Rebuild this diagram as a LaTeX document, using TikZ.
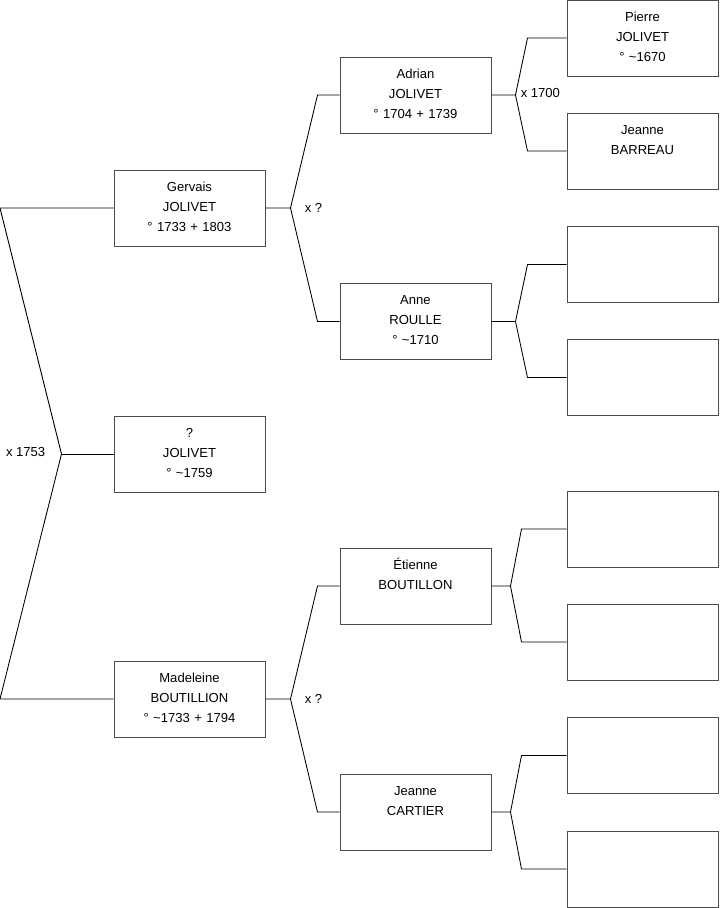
\documentclass[tikz,border=0pt]{standalone}
\usepackage{fontspec}
\setmainfont{Liberation Sans}
\usetikzlibrary{positioning,calc}

\begin{document}
\begin{tikzpicture}[
    x=0.75pt,
    y=-0.75pt,
    font=\fontsize{9.8}{15}\selectfont,
    person/.style={
        draw=black!70,
        line width=0.75pt,
        text width=113.25pt,
        align=center,
        inner sep=0pt,
        text height=16pt,
        text depth=41pt
    },
    link/.style={line width=0.65pt},
    union/.style={inner sep=0pt}
]
\useasboundingbox (0,0) rectangle (719,908);
\coordinate (edge) at (0,0);

% generation 1
\node[person] (gerv) at (189.5,208) {Gervais\\JOLIVET\\° 1733 + 1803};
\node[person] (unkn) at (189.5,454) {?\\JOLIVET\\° \textasciitilde1759};
\node[person] (made) at (189.5,699) {Madeleine\\BOUTILLION\\° \textasciitilde1733 + 1794};

% generation 2
\node[person] (adri) at (415.5,95) {Adrian\\JOLIVET\\° 1704 + 1739};
\node[person] (anne) at (415.5,321.5) {Anne\\ROULLE\\° \textasciitilde1710};
\node[person] (etie) at (415.5,586) {Étienne\\BOUTILLON};
\node[person] (jcar) at (415.5,812) {Jeanne\\CARTIER};

% generation 3
\node[person] (pjol) at (642.5,38) {Pierre\\JOLIVET\\° \textasciitilde1670};
\node[person] (jbar) at (642.5,151) {Jeanne\\BARREAU};
\node[person] (r3) at (642.5,264.5) {};
\node[person] (r4) at (642.5,377.5) {};
\node[person] (r5) at (642.5,529) {};
\node[person] (r6) at (642.5,642) {};
\node[person] (r7) at (642.5,755.5) {};
\node[person] (r8) at (642.5,869) {};

% couple of the children
\coordinate (lfork) at ($(unkn.west)+(-52,0)$);
\draw[link] (gerv.west) -- (gerv.west -| edge) -- (lfork) -- (made.west -| edge) -- (made.west);
\draw[link] (lfork) -- (unkn.west);
\node[union, anchor=east] (lxl) at ($(lfork)+(-16,-2.5)$) {x 1753};

% parents of Gervais
\draw[link] (gerv.east) -- ++(25,0) coordinate (gx)
    -- ($(adri.west)+(-22,0)$) -- (adri.west);
\draw[link] (gx) -- ($(anne.west)+(-22,0)$) -- (anne.west);
\node[union, anchor=west] (gxl) at ($(gx)+(14,0)$) {x ?};

% parents of Madeleine
\draw[link] (made.east) -- ++(25,0) coordinate (mx)
    -- ($(etie.west)+(-22,0)$) -- (etie.west);
\draw[link] (mx) -- ($(jcar.west)+(-22,0)$) -- (jcar.west);
\node[union, anchor=west] (mxl) at ($(mx)+(14,0)$) {x ?};

% parents of Adrian
\draw[link] (adri.east) -- ++(24,0) coordinate (ax)
    -- ($(pjol.west)+(-39,0)$) -- (pjol.west);
\draw[link] (ax) -- ($(jbar.west)+(-39,0)$) -- (jbar.west);
\node[union, anchor=west] (axl) at ($(ax)+(5,-2.5)$) {x 1700};

% parents of Anne
\draw[link] (anne.east) -- ++(24,0) coordinate (nx)
    -- ($(r3.west)+(-39,0)$) -- (r3.west);
\draw[link] (nx) -- ($(r4.west)+(-39,0)$) -- (r4.west);

% parents of Etienne
\draw[link] (etie.east) -- ++(19,0) coordinate (ex)
    -- ($(r5.west)+(-45,0)$) -- (r5.west);
\draw[link] (ex) -- ($(r6.west)+(-45,0)$) -- (r6.west);

% parents of Jeanne
\draw[link] (jcar.east) -- ++(19,0) coordinate (jx)
    -- ($(r7.west)+(-45,0)$) -- (r7.west);
\draw[link] (jx) -- ($(r8.west)+(-45,0)$) -- (r8.west);

\end{tikzpicture}
\end{document}
